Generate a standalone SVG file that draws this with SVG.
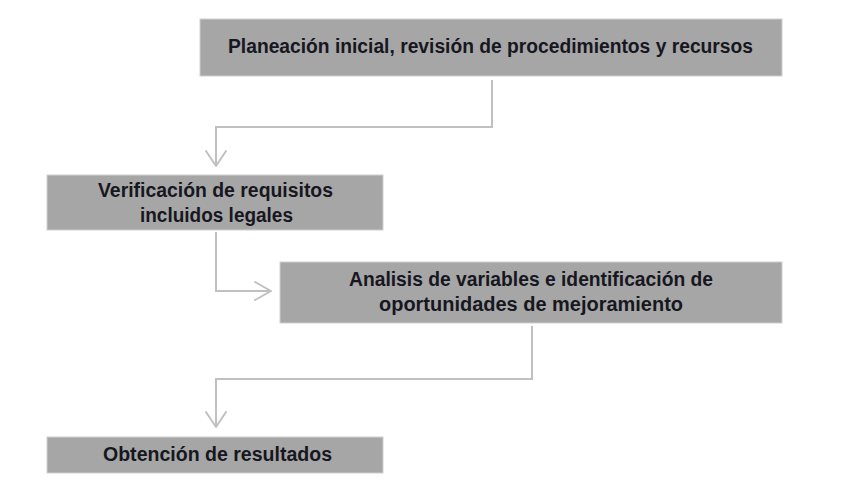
<svg xmlns="http://www.w3.org/2000/svg" width="843" height="488" viewBox="0 0 843 488">
<style>
.box{fill:#a6a6a6;stroke:#cfcfcf;stroke-width:1}
.lbl{font-family:"Liberation Sans",Arial,sans-serif;font-weight:bold;font-size:20px;fill:#17171f;text-anchor:middle}
.con{fill:none;stroke:#c0c0c0;stroke-width:2}
.ah{fill:none;stroke:#c0c0c0;stroke-width:2;stroke-linecap:round;stroke-linejoin:round}
</style>
<rect width="843" height="488" fill="#ffffff"/>
<g id="connectors">
<path class="con" d="M492,80 V127 H216 V166"/>
<path class="ah" d="M206,151 L216,166 L226,151"/>
<path class="con" d="M216,232 V291 H271"/>
<path class="ah" d="M255,282 L271,291 L255,300"/>
<path class="con" d="M532,326 V379 H216 V427"/>
<path class="ah" d="M206,412 L216,427 L226,412"/>
</g>
<g id="node1">
<rect class="box" x="200" y="19" width="582" height="57"/>
<text class="lbl" x="490.5" y="53" textLength="525" lengthAdjust="spacingAndGlyphs">Planeación inicial, revisión de procedimientos y recursos</text>
</g>
<g id="node2">
<rect class="box" x="47" y="175" width="336" height="55"/>
<text class="lbl" x="215.5" y="197" textLength="235" lengthAdjust="spacingAndGlyphs">Verificación de requisitos</text>
<text class="lbl" x="216.5" y="222" textLength="153" lengthAdjust="spacingAndGlyphs">incluidos legales</text>
</g>
<g id="node3">
<rect class="box" x="280" y="262" width="502" height="61"/>
<text class="lbl" x="531" y="286" textLength="364" lengthAdjust="spacingAndGlyphs">Analisis de variables e identificación de</text>
<text class="lbl" x="531" y="311" textLength="304" lengthAdjust="spacingAndGlyphs">oportunidades de mejoramiento</text>
</g>
<g id="node4">
<rect class="box" x="47" y="437" width="336" height="36"/>
<text class="lbl" x="217.5" y="461" textLength="229" lengthAdjust="spacingAndGlyphs">Obtención de resultados</text>
</g>
</svg>
